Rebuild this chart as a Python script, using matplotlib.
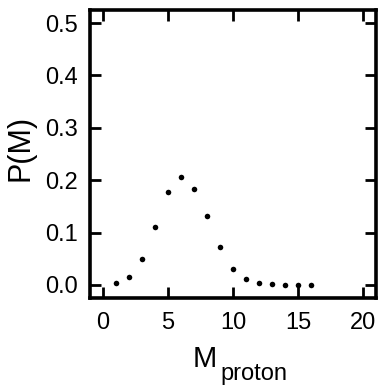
import matplotlib
matplotlib.use("Agg")
import matplotlib.pyplot as plt

multiplicity = [1, 2, 3, 4, 5, 6, 7, 8, 9, 10, 11, 12, 13, 14, 15, 16]
probability = [0.0044, 0.016, 0.050, 0.111, 0.177, 0.206, 0.184, 0.131,
               0.073, 0.031, 0.0115, 0.0044, 0.0010, 0.0004, 0.0002, 0.0001]
x_ticks = [0, 5, 10, 15, 20]
y_ticks = [0.0, 0.1, 0.2, 0.3, 0.4, 0.5]

plt.rcParams["font.family"] = ["Liberation Sans", "DejaVu Sans"]

W, H = 378, 387
fig = plt.figure(figsize=(W / 100, H / 100), dpi=100)
ax = fig.add_axes([90 / W, 1 - 298 / H, 286 / W, 288 / H])

ax.plot(multiplicity, probability, "o", color="black", markersize=4, markeredgewidth=0)

ax.set_xlim(-1, 21)
ax.set_ylim(-0.025, 0.525)
ax.set_xticks(x_ticks)
ax.set_yticks(y_ticks)
ax.set_xticklabels([str(t) for t in x_ticks])
ax.set_yticklabels([f"{t:.1f}" for t in y_ticks])

for s in ax.spines.values():
    s.set_linewidth(2.6)
ax.tick_params(direction="in", length=8, width=2, top=True, right=True,
               labelsize=17)
ax.tick_params(axis="x", pad=10)
ax.tick_params(axis="y", pad=9)

# axis titles
fig.text(21 / W, 1 - 148 / H, "P(M)", rotation=90, ha="center", va="center",
         fontsize=22)
fig.text(193 / W, 1 - 367 / H, "M", ha="left", va="baseline", fontsize=21)
fig.text(220 / W, 1 - 380 / H, "proton", ha="left", va="baseline", fontsize=17)

fig.savefig("out.png", dpi=100)
